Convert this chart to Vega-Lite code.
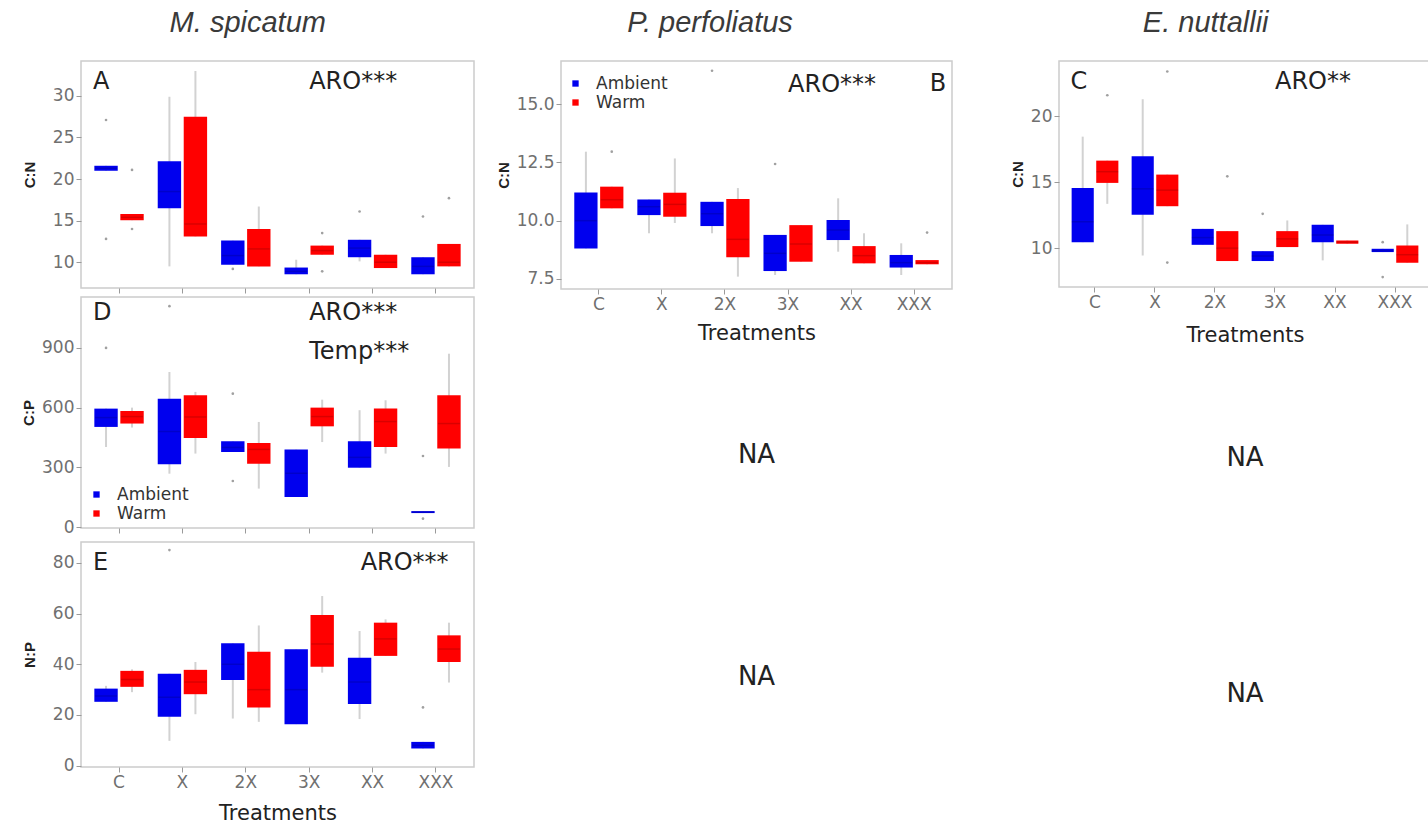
{
  "$schema": "https://vega.github.io/schema/vega-lite/v6.json",
  "padding": {"left": 20, "top": 9, "right": 0, "bottom": 0},
  "background": "white",
  "datasets": {
    "boxes": [
      {"panel": "A", "treatment": "C", "temp": "Ambient", "lo": 21.0, "q1": 21.0, "med": 21.3, "q3": 21.6, "hi": 21.6},
      {"panel": "A", "treatment": "C", "temp": "Warm", "lo": 15.05, "q1": 15.05, "med": 15.4, "q3": 15.8, "hi": 15.8},
      {"panel": "A", "treatment": "X", "temp": "Ambient", "lo": 9.5, "q1": 16.5, "med": 18.5, "q3": 22.15, "hi": 29.9},
      {"panel": "A", "treatment": "X", "temp": "Warm", "lo": 13.1, "q1": 13.1, "med": 14.6, "q3": 27.5, "hi": 33.0},
      {"panel": "A", "treatment": "2X", "temp": "Ambient", "lo": 9.7, "q1": 9.7, "med": 10.8, "q3": 12.6, "hi": 12.6},
      {"panel": "A", "treatment": "2X", "temp": "Warm", "lo": 9.5, "q1": 9.5, "med": 11.6, "q3": 14.0, "hi": 16.7},
      {"panel": "A", "treatment": "3X", "temp": "Ambient", "lo": 8.55, "q1": 8.55, "med": 8.9, "q3": 9.36, "hi": 10.3},
      {"panel": "A", "treatment": "3X", "temp": "Warm", "lo": 10.9, "q1": 10.9, "med": 11.4, "q3": 12.0, "hi": 12.0},
      {"panel": "A", "treatment": "XX", "temp": "Ambient", "lo": 10.1, "q1": 10.6, "med": 11.7, "q3": 12.7, "hi": 12.7},
      {"panel": "A", "treatment": "XX", "temp": "Warm", "lo": 9.3, "q1": 9.3, "med": 10.0, "q3": 10.9, "hi": 10.9},
      {"panel": "A", "treatment": "XXX", "temp": "Ambient", "lo": 8.55, "q1": 8.55, "med": 9.5, "q3": 10.6, "hi": 10.6},
      {"panel": "A", "treatment": "XXX", "temp": "Warm", "lo": 9.5, "q1": 9.5, "med": 10.0, "q3": 12.2, "hi": 12.2},

      {"panel": "D", "treatment": "C", "temp": "Ambient", "lo": 402, "q1": 503, "med": 550, "q3": 595, "hi": 595},
      {"panel": "D", "treatment": "C", "temp": "Warm", "lo": 500, "q1": 520, "med": 555, "q3": 583, "hi": 600},
      {"panel": "D", "treatment": "X", "temp": "Ambient", "lo": 268, "q1": 315, "med": 480, "q3": 645, "hi": 779},
      {"panel": "D", "treatment": "X", "temp": "Warm", "lo": 369, "q1": 447, "med": 553, "q3": 662, "hi": 679},
      {"panel": "D", "treatment": "2X", "temp": "Ambient", "lo": 377, "q1": 377, "med": 400, "q3": 431, "hi": 431},
      {"panel": "D", "treatment": "2X", "temp": "Warm", "lo": 193, "q1": 318, "med": 390, "q3": 422, "hi": 528},
      {"panel": "D", "treatment": "3X", "temp": "Ambient", "lo": 151, "q1": 151, "med": 270, "q3": 389, "hi": 389},
      {"panel": "D", "treatment": "3X", "temp": "Warm", "lo": 427, "q1": 506, "med": 555, "q3": 600, "hi": 640},
      {"panel": "D", "treatment": "XX", "temp": "Ambient", "lo": 298, "q1": 298, "med": 350, "q3": 431, "hi": 587},
      {"panel": "D", "treatment": "XX", "temp": "Warm", "lo": 369, "q1": 402, "med": 530, "q3": 595, "hi": 637},
      {"panel": "D", "treatment": "XXX", "temp": "Ambient", "lo": 70, "q1": 70, "med": 75, "q3": 80, "hi": 80},
      {"panel": "D", "treatment": "XXX", "temp": "Warm", "lo": 302, "q1": 394, "med": 520, "q3": 662, "hi": 871},

      {"panel": "E", "treatment": "C", "temp": "Ambient", "lo": 25.2, "q1": 25.2, "med": 27.5, "q3": 30.4, "hi": 31.5},
      {"panel": "E", "treatment": "C", "temp": "Warm", "lo": 29, "q1": 31.1, "med": 34, "q3": 37.4, "hi": 38},
      {"panel": "E", "treatment": "X", "temp": "Ambient", "lo": 9.8, "q1": 19.3, "med": 27, "q3": 36.3, "hi": 36.3},
      {"panel": "E", "treatment": "X", "temp": "Warm", "lo": 20.3, "q1": 28.2, "med": 33, "q3": 37.8, "hi": 40.9},
      {"panel": "E", "treatment": "2X", "temp": "Ambient", "lo": 18.6, "q1": 33.8, "med": 40, "q3": 48.3, "hi": 48.3},
      {"panel": "E", "treatment": "2X", "temp": "Warm", "lo": 17.3, "q1": 23.0, "med": 30, "q3": 44.9, "hi": 55.3},
      {"panel": "E", "treatment": "3X", "temp": "Ambient", "lo": 16.4, "q1": 16.4, "med": 30, "q3": 45.9, "hi": 45.9},
      {"panel": "E", "treatment": "3X", "temp": "Warm", "lo": 36.7, "q1": 39.0, "med": 48, "q3": 59.4, "hi": 66.9},
      {"panel": "E", "treatment": "XX", "temp": "Ambient", "lo": 18.4, "q1": 24.3, "med": 33, "q3": 42.6, "hi": 53.1},
      {"panel": "E", "treatment": "XX", "temp": "Warm", "lo": 43.3, "q1": 43.3, "med": 50, "q3": 56.4, "hi": 57.7},
      {"panel": "E", "treatment": "XXX", "temp": "Ambient", "lo": 6.8, "q1": 6.8, "med": 8, "q3": 9.4, "hi": 9.4},
      {"panel": "E", "treatment": "XXX", "temp": "Warm", "lo": 32.8, "q1": 40.9, "med": 46, "q3": 51.4, "hi": 56.4},

      {"panel": "B", "treatment": "C", "temp": "Ambient", "lo": 8.81, "q1": 8.81, "med": 10.0, "q3": 11.21, "hi": 12.96},
      {"panel": "B", "treatment": "C", "temp": "Warm", "lo": 10.53, "q1": 10.53, "med": 10.9, "q3": 11.46, "hi": 11.46},
      {"panel": "B", "treatment": "X", "temp": "Ambient", "lo": 9.46, "q1": 10.24, "med": 10.6, "q3": 10.91, "hi": 10.91},
      {"panel": "B", "treatment": "X", "temp": "Warm", "lo": 9.9, "q1": 10.17, "med": 10.7, "q3": 11.2, "hi": 12.67},
      {"panel": "B", "treatment": "2X", "temp": "Ambient", "lo": 9.46, "q1": 9.77, "med": 10.3, "q3": 10.81, "hi": 10.81},
      {"panel": "B", "treatment": "2X", "temp": "Warm", "lo": 7.6, "q1": 8.43, "med": 9.2, "q3": 10.93, "hi": 11.4},
      {"panel": "B", "treatment": "3X", "temp": "Ambient", "lo": 7.67, "q1": 7.84, "med": 8.6, "q3": 9.39, "hi": 9.39},
      {"panel": "B", "treatment": "3X", "temp": "Warm", "lo": 8.24, "q1": 8.24, "med": 9.0, "q3": 9.81, "hi": 9.81},
      {"panel": "B", "treatment": "XX", "temp": "Ambient", "lo": 8.67, "q1": 9.17, "med": 9.6, "q3": 10.03, "hi": 10.96},
      {"panel": "B", "treatment": "XX", "temp": "Warm", "lo": 8.17, "q1": 8.17, "med": 8.5, "q3": 8.91, "hi": 9.46},
      {"panel": "B", "treatment": "XXX", "temp": "Ambient", "lo": 7.67, "q1": 7.99, "med": 8.2, "q3": 8.53, "hi": 9.03},
      {"panel": "B", "treatment": "XXX", "temp": "Warm", "lo": 8.13, "q1": 8.13, "med": 8.2, "q3": 8.31, "hi": 8.31},

      {"panel": "C", "treatment": "C", "temp": "Ambient", "lo": 10.45, "q1": 10.45, "med": 12.0, "q3": 14.57, "hi": 18.46},
      {"panel": "C", "treatment": "C", "temp": "Warm", "lo": 13.36, "q1": 14.95, "med": 15.8, "q3": 16.64, "hi": 16.64},
      {"panel": "C", "treatment": "X", "temp": "Ambient", "lo": 9.44, "q1": 12.53, "med": 14.5, "q3": 16.97, "hi": 21.3},
      {"panel": "C", "treatment": "X", "temp": "Warm", "lo": 13.18, "q1": 13.18, "med": 14.4, "q3": 15.58, "hi": 15.58},
      {"panel": "C", "treatment": "2X", "temp": "Ambient", "lo": 10.25, "q1": 10.25, "med": 10.8, "q3": 11.46, "hi": 11.46},
      {"panel": "C", "treatment": "2X", "temp": "Warm", "lo": 9.02, "q1": 9.02, "med": 10.0, "q3": 11.29, "hi": 11.29},
      {"panel": "C", "treatment": "3X", "temp": "Ambient", "lo": 9.02, "q1": 9.02, "med": 9.4, "q3": 9.77, "hi": 9.77},
      {"panel": "C", "treatment": "3X", "temp": "Warm", "lo": 10.08, "q1": 10.08, "med": 10.7, "q3": 11.29, "hi": 12.1},
      {"panel": "C", "treatment": "XX", "temp": "Ambient", "lo": 9.07, "q1": 10.45, "med": 11.0, "q3": 11.77, "hi": 11.77},
      {"panel": "C", "treatment": "XX", "temp": "Warm", "lo": 10.33, "q1": 10.33, "med": 10.45, "q3": 10.58, "hi": 10.58},
      {"panel": "C", "treatment": "XXX", "temp": "Ambient", "lo": 9.7, "q1": 9.7, "med": 9.8, "q3": 9.95, "hi": 9.95},
      {"panel": "C", "treatment": "XXX", "temp": "Warm", "lo": 8.89, "q1": 8.89, "med": 9.5, "q3": 10.2, "hi": 11.8}
    ],
    "outliers": [
      {"panel": "A", "treatment": "C", "temp": "Ambient", "value": 27.1},
      {"panel": "A", "treatment": "C", "temp": "Ambient", "value": 12.8},
      {"panel": "A", "treatment": "C", "temp": "Warm", "value": 21.1},
      {"panel": "A", "treatment": "C", "temp": "Warm", "value": 14.0},
      {"panel": "A", "treatment": "2X", "temp": "Ambient", "value": 9.2},
      {"panel": "A", "treatment": "3X", "temp": "Warm", "value": 13.5},
      {"panel": "A", "treatment": "3X", "temp": "Warm", "value": 8.9},
      {"panel": "A", "treatment": "XX", "temp": "Ambient", "value": 16.1},
      {"panel": "A", "treatment": "XXX", "temp": "Ambient", "value": 15.5},
      {"panel": "A", "treatment": "XXX", "temp": "Warm", "value": 17.7},
      {"panel": "D", "treatment": "C", "temp": "Ambient", "value": 900},
      {"panel": "D", "treatment": "X", "temp": "Ambient", "value": 1110},
      {"panel": "D", "treatment": "2X", "temp": "Ambient", "value": 670},
      {"panel": "D", "treatment": "2X", "temp": "Ambient", "value": 231},
      {"panel": "D", "treatment": "XXX", "temp": "Ambient", "value": 357},
      {"panel": "D", "treatment": "XXX", "temp": "Ambient", "value": 42},
      {"panel": "E", "treatment": "X", "temp": "Ambient", "value": 85},
      {"panel": "E", "treatment": "XXX", "temp": "Ambient", "value": 23},
      {"panel": "B", "treatment": "C", "temp": "Warm", "value": 12.96},
      {"panel": "B", "treatment": "2X", "temp": "Ambient", "value": 16.43},
      {"panel": "B", "treatment": "3X", "temp": "Ambient", "value": 12.43},
      {"panel": "B", "treatment": "XXX", "temp": "Warm", "value": 9.49},
      {"panel": "C", "treatment": "C", "temp": "Warm", "value": 21.6},
      {"panel": "C", "treatment": "X", "temp": "Warm", "value": 23.4},
      {"panel": "C", "treatment": "X", "temp": "Warm", "value": 8.9},
      {"panel": "C", "treatment": "2X", "temp": "Warm", "value": 15.45},
      {"panel": "C", "treatment": "3X", "temp": "Ambient", "value": 12.6},
      {"panel": "C", "treatment": "XXX", "temp": "Ambient", "value": 10.45},
      {"panel": "C", "treatment": "XXX", "temp": "Ambient", "value": 7.8}
    ],
    "notes": [
      {"panel": "A", "kind": "letter", "treatment": "C", "value": 31.7, "label": "A"},
      {"panel": "A", "kind": "stat", "treatment": "3X", "value": 31.7, "label": "ARO***"},
      {"panel": "D", "kind": "letter", "treatment": "C", "value": 1076, "label": "D"},
      {"panel": "D", "kind": "stat", "treatment": "3X", "value": 1076, "label": "ARO***"},
      {"panel": "D", "kind": "stat", "treatment": "3X", "value": 880, "label": "Temp***"},
      {"panel": "E", "kind": "letter", "treatment": "C", "value": 80, "label": "E"},
      {"panel": "E", "kind": "stat2", "treatment": "XX", "value": 80, "label": "ARO***"},
      {"panel": "B", "kind": "stat", "treatment": "3X", "value": 15.8, "label": "ARO***"},
      {"panel": "B", "kind": "letter2", "treatment": "XXX", "value": 15.85, "label": "B"},
      {"panel": "C", "kind": "letter", "treatment": "C", "value": 22.6, "label": "C"},
      {"panel": "C", "kind": "stat", "treatment": "3X", "value": 22.6, "label": "ARO**"}
    ],
    "na": [
      {"slot": "P1", "label": "NA"},
      {"slot": "P2", "label": "NA"},
      {"slot": "E1", "label": "NA"},
      {"slot": "E2", "label": "NA"}
    ]
  },
  "config": {
    "view": {"stroke": "#cccccc", "strokeWidth": 1.5},
    "axis": {"grid": false, "domain": false, "tickColor": "#9a9a9a", "tickSize": 5, "tickWidth": 1, "labelFont": "DejaVu Sans", "labelFontSize": 17, "labelColor": "#707070", "labelPadding": 2, "titleColor": "#222222"},
    "axisY": {"titleFont": "Liberation Sans", "titleFontSize": 15, "titleFontWeight": "bold", "titlePadding": 5},
    "axisX": {"labelAngle": 0, "titleFont": "DejaVu Sans", "titleFontSize": 21, "titleFontWeight": "normal", "titlePadding": 10},
    "title": {"font": "Liberation Sans", "fontSize": 29, "fontStyle": "italic", "fontWeight": "normal", "color": "#3a3a3a", "anchor": "middle", "frame": "bounds", "offset": 22},
    "legend": {"labelFont": "DejaVu Sans", "labelFontSize": 17, "labelColor": "#333333", "symbolType": "square", "symbolSize": 40, "symbolStrokeWidth": 0, "rowPadding": 1, "padding": 0, "labelOffset": 12, "title": null},
    "text": {"font": "DejaVu Sans", "fontSize": 24, "color": "#222222", "baseline": "middle"}
  },
  "resolve": {"scale": {"color": "independent", "xOffset": "independent"}, "legend": {"color": "independent"}},
  "spacing": 56,
  "hconcat": [
    {
      "spacing": 20,
      "resolve": {"scale": {"color": "independent", "xOffset": "independent"}, "legend": {"color": "independent"}},
      "hconcat": [
        {
          "title": {"text": "M. spicatum"},
          "spacing": 5,
          "resolve": {"scale": {"color": "independent", "xOffset": "independent"}, "legend": {"color": "independent"}},
          "vconcat": [
            {
              "spacing": 1,
              "resolve": {"scale": {"color": "independent", "xOffset": "independent"}, "legend": {"color": "independent"}},
              "vconcat": [
                {
                  "width": 393, "height": 227,
                  "layer": [
                    {"data": {"name": "boxes"}, "transform": [{"filter": "datum.panel === 'A'"}],
                     "mark": {"type": "rule", "color": "#d2d2d2", "strokeWidth": 2},
                     "encoding": {
                       "x": {"field": "treatment", "type": "nominal", "scale": {"domain": ["C", "X", "2X", "3X", "XX", "XXX"], "paddingInner": 0.18, "paddingOuter": 0.19}, "axis": {"labels": false, "title": null}},
                       "xOffset": {"field": "temp", "type": "nominal", "scale": {"domain": ["Ambient", "Warm"], "paddingInner": 0.1, "paddingOuter": 0.05}},
                       "y": {"field": "lo", "type": "quantitative", "scale": {"domain": [6.9, 34.2], "nice": false, "zero": false}, "axis": {"values": [10, 15, 20, 25, 30], "title": "C:N", "minExtent": 39}},
                       "y2": {"field": "hi"}}},
                    {"data": {"name": "boxes"}, "transform": [{"filter": "datum.panel === 'A'"}],
                     "mark": {"type": "bar"},
                     "encoding": {
                       "x": {"field": "treatment", "type": "nominal"},
                       "xOffset": {"field": "temp", "type": "nominal"},
                       "y": {"field": "q1", "type": "quantitative", "title": "C:N"},
                       "y2": {"field": "q3"},
                       "color": {"field": "temp", "type": "nominal", "scale": {"domain": ["Ambient", "Warm"], "range": ["#0000ee", "#ff0000"]}, "legend": null}}},
                    {"data": {"name": "boxes"}, "transform": [{"filter": "datum.panel === 'A'"}],
                     "mark": {"type": "tick", "color": "#000000", "opacity": 0.15, "thickness": 1.5, "size": 22},
                     "encoding": {"x": {"field": "treatment", "type": "nominal"}, "xOffset": {"field": "temp", "type": "nominal"}, "y": {"field": "med", "type": "quantitative", "title": "C:N"}}},
                    {"data": {"name": "outliers"}, "transform": [{"filter": "datum.panel === 'A'"}],
                     "mark": {"type": "point", "filled": true, "size": 7, "color": "#a0a0a0", "opacity": 1},
                     "encoding": {"x": {"field": "treatment", "type": "nominal"}, "xOffset": {"field": "temp", "type": "nominal"}, "y": {"field": "value", "type": "quantitative", "title": "C:N"}}},
                    {"data": {"name": "notes"}, "transform": [{"filter": "datum.panel === 'A' && datum.kind === 'letter'"}],
                     "mark": {"type": "text", "align": "left"},
                     "encoding": {"x": {"field": "treatment", "type": "nominal", "bandPosition": 0}, "y": {"field": "value", "type": "quantitative", "title": "C:N"}, "text": {"field": "label"}}},
                    {"data": {"name": "notes"}, "transform": [{"filter": "datum.panel === 'A' && datum.kind === 'stat'"}],
                     "mark": {"type": "text", "align": "left"},
                     "encoding": {"x": {"field": "treatment", "type": "nominal"}, "y": {"field": "value", "type": "quantitative", "title": "C:N"}, "text": {"field": "label"}}}
                  ]
                },
                {
                  "width": 393, "height": 231,
                  "layer": [
                    {"data": {"name": "boxes"}, "transform": [{"filter": "datum.panel === 'D'"}],
                     "mark": {"type": "rule", "color": "#d2d2d2", "strokeWidth": 2},
                     "encoding": {
                       "x": {"field": "treatment", "type": "nominal", "scale": {"domain": ["C", "X", "2X", "3X", "XX", "XXX"], "paddingInner": 0.18, "paddingOuter": 0.19}, "axis": {"labels": false, "title": null}},
                       "xOffset": {"field": "temp", "type": "nominal", "scale": {"domain": ["Ambient", "Warm"], "paddingInner": 0.1, "paddingOuter": 0.05}},
                       "y": {"field": "lo", "type": "quantitative", "scale": {"domain": [-5, 1156], "nice": false, "zero": false}, "axis": {"values": [0, 300, 600, 900], "title": "C:P", "minExtent": 39}},
                       "y2": {"field": "hi"}}},
                    {"data": {"name": "boxes"}, "transform": [{"filter": "datum.panel === 'D'"}],
                     "mark": {"type": "bar"},
                     "encoding": {
                       "x": {"field": "treatment", "type": "nominal"},
                       "xOffset": {"field": "temp", "type": "nominal"},
                       "y": {"field": "q1", "type": "quantitative", "title": "C:P"},
                       "y2": {"field": "q3"},
                       "color": {"field": "temp", "type": "nominal", "scale": {"domain": ["Ambient", "Warm"], "range": ["#0000ee", "#ff0000"]}, "legend": {"orient": "none", "legendX": 7, "legendY": 189}}}},
                    {"data": {"name": "boxes"}, "transform": [{"filter": "datum.panel === 'D'"}],
                     "mark": {"type": "tick", "color": "#000000", "opacity": 0.15, "thickness": 1.5, "size": 22},
                     "encoding": {"x": {"field": "treatment", "type": "nominal"}, "xOffset": {"field": "temp", "type": "nominal"}, "y": {"field": "med", "type": "quantitative", "title": "C:P"}}},
                    {"data": {"name": "outliers"}, "transform": [{"filter": "datum.panel === 'D'"}],
                     "mark": {"type": "point", "filled": true, "size": 7, "color": "#a0a0a0", "opacity": 1},
                     "encoding": {"x": {"field": "treatment", "type": "nominal"}, "xOffset": {"field": "temp", "type": "nominal"}, "y": {"field": "value", "type": "quantitative", "title": "C:P"}}},
                    {"data": {"name": "notes"}, "transform": [{"filter": "datum.panel === 'D' && datum.kind === 'letter'"}],
                     "mark": {"type": "text", "align": "left"},
                     "encoding": {"x": {"field": "treatment", "type": "nominal", "bandPosition": 0}, "y": {"field": "value", "type": "quantitative", "title": "C:P"}, "text": {"field": "label"}}},
                    {"data": {"name": "notes"}, "transform": [{"filter": "datum.panel === 'D' && datum.kind === 'stat'"}],
                     "mark": {"type": "text", "align": "left"},
                     "encoding": {"x": {"field": "treatment", "type": "nominal"}, "y": {"field": "value", "type": "quantitative", "title": "C:P"}, "text": {"field": "label"}}}
                  ]
                }
              ]
            },
            {
              "width": 393, "height": 225,
              "layer": [
                {"data": {"name": "boxes"}, "transform": [{"filter": "datum.panel === 'E'"}],
                 "mark": {"type": "rule", "color": "#d2d2d2", "strokeWidth": 2},
                 "encoding": {
                   "x": {"field": "treatment", "type": "nominal", "scale": {"domain": ["C", "X", "2X", "3X", "XX", "XXX"], "paddingInner": 0.18, "paddingOuter": 0.19}, "axis": {"title": "Treatments", "titlePadding": 12}},
                   "xOffset": {"field": "temp", "type": "nominal", "scale": {"domain": ["Ambient", "Warm"], "paddingInner": 0.1, "paddingOuter": 0.05}},
                   "y": {"field": "lo", "type": "quantitative", "scale": {"domain": [-0.5, 88.2], "nice": false, "zero": false}, "axis": {"values": [0, 20, 40, 60, 80], "title": "N:P", "minExtent": 39}},
                   "y2": {"field": "hi"}}},
                {"data": {"name": "boxes"}, "transform": [{"filter": "datum.panel === 'E'"}],
                 "mark": {"type": "bar"},
                 "encoding": {
                   "x": {"field": "treatment", "type": "nominal", "title": "Treatments"},
                   "xOffset": {"field": "temp", "type": "nominal"},
                   "y": {"field": "q1", "type": "quantitative", "title": "N:P"},
                   "y2": {"field": "q3"},
                   "color": {"field": "temp", "type": "nominal", "scale": {"domain": ["Ambient", "Warm"], "range": ["#0000ee", "#ff0000"]}, "legend": null}}},
                {"data": {"name": "boxes"}, "transform": [{"filter": "datum.panel === 'E'"}],
                 "mark": {"type": "tick", "color": "#000000", "opacity": 0.15, "thickness": 1.5, "size": 22},
                 "encoding": {"x": {"field": "treatment", "type": "nominal", "title": "Treatments"}, "xOffset": {"field": "temp", "type": "nominal"}, "y": {"field": "med", "type": "quantitative", "title": "N:P"}}},
                {"data": {"name": "outliers"}, "transform": [{"filter": "datum.panel === 'E'"}],
                 "mark": {"type": "point", "filled": true, "size": 7, "color": "#a0a0a0", "opacity": 1},
                 "encoding": {"x": {"field": "treatment", "type": "nominal", "title": "Treatments"}, "xOffset": {"field": "temp", "type": "nominal"}, "y": {"field": "value", "type": "quantitative", "title": "N:P"}}},
                {"data": {"name": "notes"}, "transform": [{"filter": "datum.panel === 'E' && datum.kind === 'letter'"}],
                 "mark": {"type": "text", "align": "left"},
                 "encoding": {"x": {"field": "treatment", "type": "nominal", "bandPosition": 0, "title": "Treatments"}, "y": {"field": "value", "type": "quantitative", "title": "N:P"}, "text": {"field": "label"}}},
                {"data": {"name": "notes"}, "transform": [{"filter": "datum.panel === 'E' && datum.kind === 'stat2'"}],
                 "mark": {"type": "text", "align": "left"},
                 "encoding": {"x": {"field": "treatment", "type": "nominal", "bandPosition": 0.27, "title": "Treatments"}, "y": {"field": "value", "type": "quantitative", "title": "N:P"}, "text": {"field": "label"}}}
              ]
            }
          ]
        },
        {
          "title": {"text": "P. perfoliatus", "dx": -14},
          "spacing": 10,
          "resolve": {"scale": {"color": "independent", "xOffset": "independent"}, "legend": {"color": "independent"}},
          "vconcat": [
            {
              "width": 391, "height": 228,
              "layer": [
                {"data": {"name": "boxes"}, "transform": [{"filter": "datum.panel === 'B'"}],
                 "mark": {"type": "rule", "color": "#d2d2d2", "strokeWidth": 2},
                 "encoding": {
                   "x": {"field": "treatment", "type": "nominal", "scale": {"domain": ["C", "X", "2X", "3X", "XX", "XXX"], "paddingInner": 0.18, "paddingOuter": 0.19}, "axis": {"title": "Treatments"}},
                   "xOffset": {"field": "temp", "type": "nominal", "scale": {"domain": ["Ambient", "Warm"], "paddingInner": 0.1, "paddingOuter": 0.05}},
                   "y": {"field": "lo", "type": "quantitative", "scale": {"domain": [7.07, 16.85], "nice": false, "zero": false}, "axis": {"values": [7.5, 10, 12.5, 15], "format": ".1f", "title": "C:N"}},
                   "y2": {"field": "hi"}}},
                {"data": {"name": "boxes"}, "transform": [{"filter": "datum.panel === 'B'"}],
                 "mark": {"type": "bar"},
                 "encoding": {
                   "x": {"field": "treatment", "type": "nominal", "title": "Treatments"},
                   "xOffset": {"field": "temp", "type": "nominal"},
                   "y": {"field": "q1", "type": "quantitative", "title": "C:N"},
                   "y2": {"field": "q3"},
                   "color": {"field": "temp", "type": "nominal", "scale": {"domain": ["Ambient", "Warm"], "range": ["#0000ee", "#ff0000"]}, "legend": {"orient": "none", "legendX": 6, "legendY": 14}}}},
                {"data": {"name": "boxes"}, "transform": [{"filter": "datum.panel === 'B'"}],
                 "mark": {"type": "tick", "color": "#000000", "opacity": 0.15, "thickness": 1.5, "size": 22},
                 "encoding": {"x": {"field": "treatment", "type": "nominal", "title": "Treatments"}, "xOffset": {"field": "temp", "type": "nominal"}, "y": {"field": "med", "type": "quantitative", "title": "C:N"}}},
                {"data": {"name": "outliers"}, "transform": [{"filter": "datum.panel === 'B'"}],
                 "mark": {"type": "point", "filled": true, "size": 7, "color": "#a0a0a0", "opacity": 1},
                 "encoding": {"x": {"field": "treatment", "type": "nominal", "title": "Treatments"}, "xOffset": {"field": "temp", "type": "nominal"}, "y": {"field": "value", "type": "quantitative", "title": "C:N"}}},
                {"data": {"name": "notes"}, "transform": [{"filter": "datum.panel === 'B' && datum.kind === 'stat'"}],
                 "mark": {"type": "text", "align": "left"},
                 "encoding": {"x": {"field": "treatment", "type": "nominal", "title": "Treatments"}, "y": {"field": "value", "type": "quantitative", "title": "C:N"}, "text": {"field": "label"}}},
                {"data": {"name": "notes"}, "transform": [{"filter": "datum.panel === 'B' && datum.kind === 'letter2'"}],
                 "mark": {"type": "text", "align": "left"},
                 "encoding": {"x": {"field": "treatment", "type": "nominal", "bandPosition": 0.8, "title": "Treatments"}, "y": {"field": "value", "type": "quantitative", "title": "C:N"}, "text": {"field": "label"}}}
              ]
            },
            {
              "width": 391, "height": 202, "view": {"stroke": null},
              "data": {"name": "na"}, "transform": [{"filter": "datum.slot === 'P1'"}],
              "mark": {"type": "text", "fontSize": 26},
              "encoding": {"text": {"field": "label"}}
            },
            {
              "width": 391, "height": 222, "view": {"stroke": null},
              "data": {"name": "na"}, "transform": [{"filter": "datum.slot === 'P2'"}],
              "mark": {"type": "text", "fontSize": 26},
              "encoding": {"text": {"field": "label"}}
            }
          ]
        }
      ]
    },
    {
      "title": {"text": "E. nuttallii", "dx": -15},
      "spacing": 10,
      "resolve": {"scale": {"color": "independent", "xOffset": "independent"}, "legend": {"color": "independent"}},
      "vconcat": [
        {
          "width": 372, "height": 226,
          "layer": [
            {"data": {"name": "boxes"}, "transform": [{"filter": "datum.panel === 'C'"}],
             "mark": {"type": "rule", "color": "#d2d2d2", "strokeWidth": 2},
             "encoding": {
               "x": {"field": "treatment", "type": "nominal", "scale": {"domain": ["C", "X", "2X", "3X", "XX", "XXX"], "paddingInner": 0.18, "paddingOuter": 0.19}, "axis": {"title": "Treatments", "titlePadding": 14}},
               "xOffset": {"field": "temp", "type": "nominal", "scale": {"domain": ["Ambient", "Warm"], "paddingInner": 0.1, "paddingOuter": 0.05}},
               "y": {"field": "lo", "type": "quantitative", "scale": {"domain": [7.05, 24.2], "nice": false, "zero": false}, "axis": {"values": [10, 15, 20], "title": "C:N"}},
               "y2": {"field": "hi"}}},
            {"data": {"name": "boxes"}, "transform": [{"filter": "datum.panel === 'C'"}],
             "mark": {"type": "bar"},
             "encoding": {
               "x": {"field": "treatment", "type": "nominal", "title": "Treatments"},
               "xOffset": {"field": "temp", "type": "nominal"},
               "y": {"field": "q1", "type": "quantitative", "title": "C:N"},
               "y2": {"field": "q3"},
               "color": {"field": "temp", "type": "nominal", "scale": {"domain": ["Ambient", "Warm"], "range": ["#0000ee", "#ff0000"]}, "legend": null}}},
            {"data": {"name": "boxes"}, "transform": [{"filter": "datum.panel === 'C'"}],
             "mark": {"type": "tick", "color": "#000000", "opacity": 0.15, "thickness": 1.5, "size": 22},
             "encoding": {"x": {"field": "treatment", "type": "nominal", "title": "Treatments"}, "xOffset": {"field": "temp", "type": "nominal"}, "y": {"field": "med", "type": "quantitative", "title": "C:N"}}},
            {"data": {"name": "outliers"}, "transform": [{"filter": "datum.panel === 'C'"}],
             "mark": {"type": "point", "filled": true, "size": 7, "color": "#a0a0a0", "opacity": 1},
             "encoding": {"x": {"field": "treatment", "type": "nominal", "title": "Treatments"}, "xOffset": {"field": "temp", "type": "nominal"}, "y": {"field": "value", "type": "quantitative", "title": "C:N"}}},
            {"data": {"name": "notes"}, "transform": [{"filter": "datum.panel === 'C' && datum.kind === 'letter'"}],
             "mark": {"type": "text", "align": "left"},
             "encoding": {"x": {"field": "treatment", "type": "nominal", "bandPosition": 0, "title": "Treatments"}, "y": {"field": "value", "type": "quantitative", "title": "C:N"}, "text": {"field": "label"}}},
            {"data": {"name": "notes"}, "transform": [{"filter": "datum.panel === 'C' && datum.kind === 'stat'"}],
             "mark": {"type": "text", "align": "left"},
             "encoding": {"x": {"field": "treatment", "type": "nominal", "title": "Treatments"}, "y": {"field": "value", "type": "quantitative", "title": "C:N"}, "text": {"field": "label"}}}
          ]
        },
        {
          "width": 372, "height": 204, "view": {"stroke": null},
          "data": {"name": "na"}, "transform": [{"filter": "datum.slot === 'E1'"}],
          "mark": {"type": "text", "fontSize": 26},
          "encoding": {"text": {"field": "label"}}
        },
        {
          "width": 372, "height": 248, "view": {"stroke": null},
          "data": {"name": "na"}, "transform": [{"filter": "datum.slot === 'E2'"}],
          "mark": {"type": "text", "fontSize": 26},
          "encoding": {"text": {"field": "label"}}
        }
      ]
    }
  ]
}
